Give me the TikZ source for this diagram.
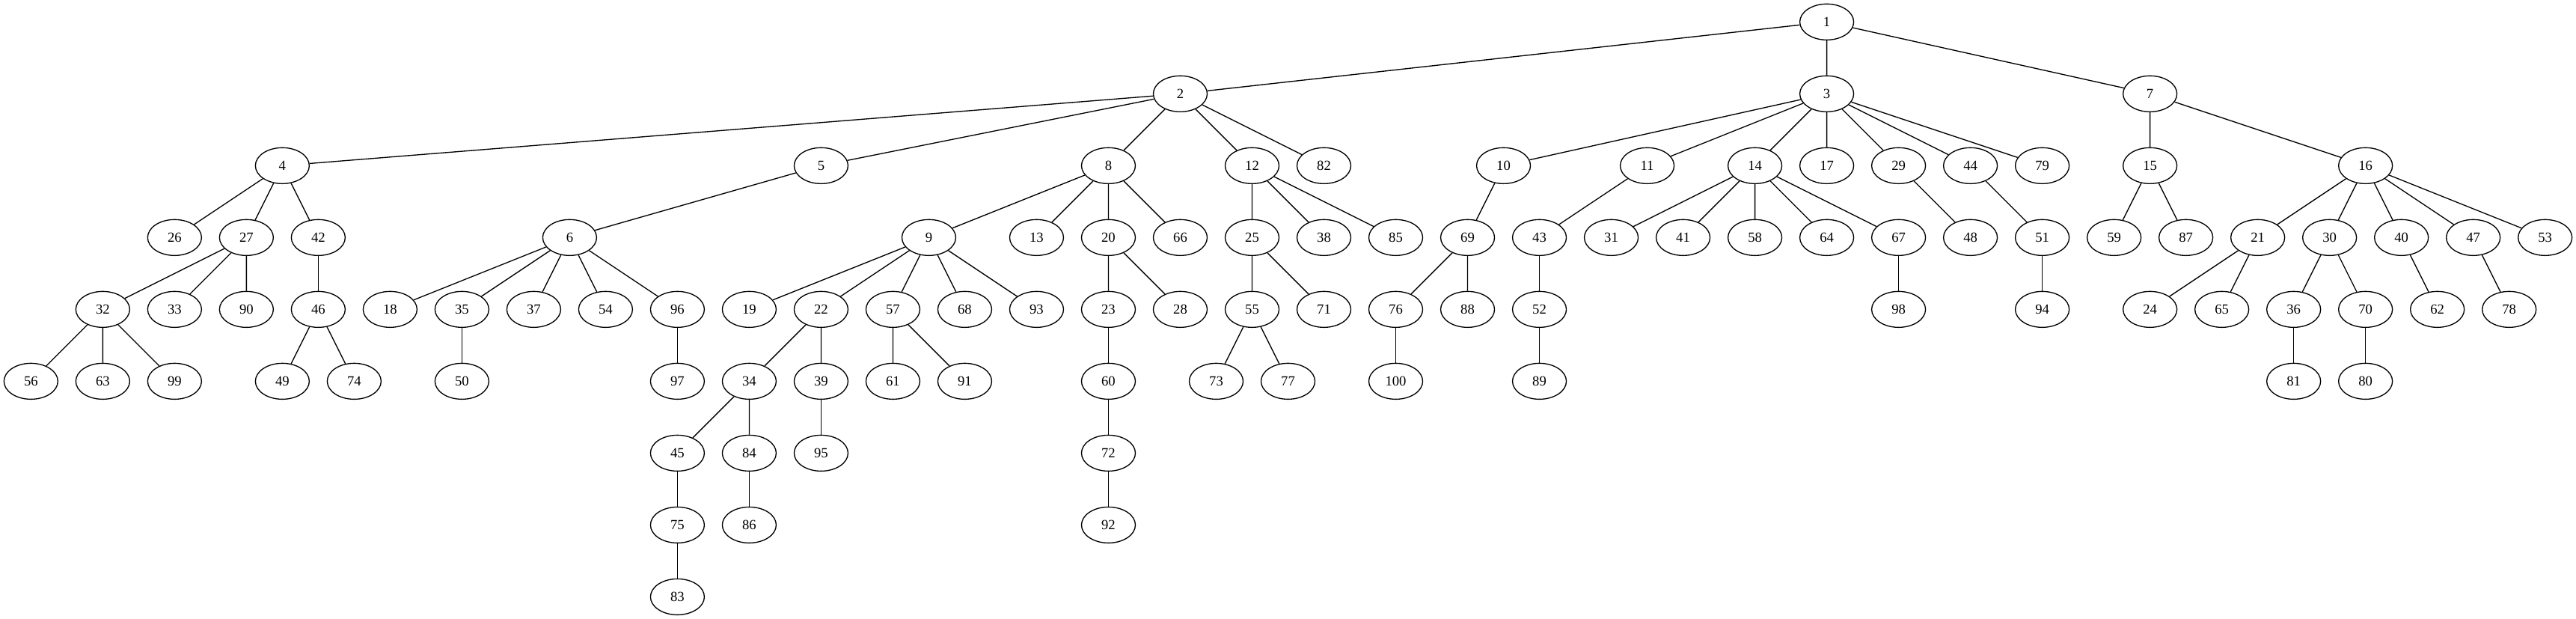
\documentclass[tikz,border=0pt]{standalone}
\usepackage{fontspec}
\setmainfont{Liberation Serif}
\usetikzlibrary{shapes.geometric}
\begin{document}
\begin{tikzpicture}[x=1bp,y=1bp,line width=1bp]
    \tikzset{
        vertex/.style={
            draw,
            ellipse,
            inner sep=0pt,
            minimum width=54bp,
            minimum height=36bp,
            font=\fontsize{14bp}{16bp}\selectfont
        },
        branch/.style={line width=1bp}
    }
    \useasboundingbox (0,0) rectangle (2582,620);

    % rank 0 and 1
    \node[vertex] (n1) at (1831,598) {1};
    \node[vertex] (n2) at (1183,526) {2};
    \node[vertex] (n3) at (1831,526) {3};
    \node[vertex] (n7) at (2155,526) {7};

    % rank 2
    \node[vertex] (n4) at (283,454) {4};
    \node[vertex] (n5) at (823,454) {5};
    \node[vertex] (n8) at (1111,454) {8};
    \node[vertex] (n12) at (1255,454) {12};
    \node[vertex] (n82) at (1327,454) {82};
    \node[vertex] (n10) at (1507,454) {10};
    \node[vertex] (n11) at (1651,454) {11};
    \node[vertex] (n14) at (1759,454) {14};
    \node[vertex] (n17) at (1831,454) {17};
    \node[vertex] (n29) at (1903,454) {29};
    \node[vertex] (n44) at (1975,454) {44};
    \node[vertex] (n79) at (2047,454) {79};
    \node[vertex] (n15) at (2155,454) {15};
    \node[vertex] (n16) at (2371,454) {16};

    % rank 3
    \node[vertex] (n26) at (175,382) {26};
    \node[vertex] (n27) at (247,382) {27};
    \node[vertex] (n42) at (319,382) {42};
    \node[vertex] (n6) at (571,382) {6};
    \node[vertex] (n9) at (931,382) {9};
    \node[vertex] (n13) at (1039,382) {13};
    \node[vertex] (n20) at (1111,382) {20};
    \node[vertex] (n66) at (1183,382) {66};
    \node[vertex] (n25) at (1255,382) {25};
    \node[vertex] (n38) at (1327,382) {38};
    \node[vertex] (n85) at (1399,382) {85};
    \node[vertex] (n69) at (1471,382) {69};
    \node[vertex] (n43) at (1543,382) {43};
    \node[vertex] (n31) at (1615,382) {31};
    \node[vertex] (n41) at (1687,382) {41};
    \node[vertex] (n58) at (1759,382) {58};
    \node[vertex] (n64) at (1831,382) {64};
    \node[vertex] (n67) at (1903,382) {67};
    \node[vertex] (n48) at (1975,382) {48};
    \node[vertex] (n51) at (2047,382) {51};
    \node[vertex] (n59) at (2119,382) {59};
    \node[vertex] (n87) at (2191,382) {87};
    \node[vertex] (n21) at (2263,382) {21};
    \node[vertex] (n30) at (2335,382) {30};
    \node[vertex] (n40) at (2407,382) {40};
    \node[vertex] (n47) at (2479,382) {47};
    \node[vertex] (n53) at (2551,382) {53};

    % rank 4
    \node[vertex] (n32) at (103,310) {32};
    \node[vertex] (n33) at (175,310) {33};
    \node[vertex] (n90) at (247,310) {90};
    \node[vertex] (n46) at (319,310) {46};
    \node[vertex] (n18) at (391,310) {18};
    \node[vertex] (n35) at (463,310) {35};
    \node[vertex] (n37) at (535,310) {37};
    \node[vertex] (n54) at (607,310) {54};
    \node[vertex] (n96) at (679,310) {96};
    \node[vertex] (n19) at (751,310) {19};
    \node[vertex] (n22) at (823,310) {22};
    \node[vertex] (n57) at (895,310) {57};
    \node[vertex] (n68) at (967,310) {68};
    \node[vertex] (n93) at (1039,310) {93};
    \node[vertex] (n23) at (1111,310) {23};
    \node[vertex] (n28) at (1183,310) {28};
    \node[vertex] (n55) at (1255,310) {55};
    \node[vertex] (n71) at (1327,310) {71};
    \node[vertex] (n76) at (1399,310) {76};
    \node[vertex] (n88) at (1471,310) {88};
    \node[vertex] (n52) at (1543,310) {52};
    \node[vertex] (n98) at (1903,310) {98};
    \node[vertex] (n94) at (2047,310) {94};
    \node[vertex] (n24) at (2155,310) {24};
    \node[vertex] (n65) at (2227,310) {65};
    \node[vertex] (n36) at (2299,310) {36};
    \node[vertex] (n70) at (2371,310) {70};
    \node[vertex] (n62) at (2443,310) {62};
    \node[vertex] (n78) at (2515,310) {78};

    % rank 5
    \node[vertex] (n56) at (31,238) {56};
    \node[vertex] (n63) at (103,238) {63};
    \node[vertex] (n99) at (175,238) {99};
    \node[vertex] (n49) at (283,238) {49};
    \node[vertex] (n74) at (355,238) {74};
    \node[vertex] (n50) at (463,238) {50};
    \node[vertex] (n97) at (679,238) {97};
    \node[vertex] (n34) at (751,238) {34};
    \node[vertex] (n39) at (823,238) {39};
    \node[vertex] (n61) at (895,238) {61};
    \node[vertex] (n91) at (967,238) {91};
    \node[vertex] (n60) at (1111,238) {60};
    \node[vertex] (n73) at (1219,238) {73};
    \node[vertex] (n77) at (1291,238) {77};
    \node[vertex] (n100) at (1399,238) {100};
    \node[vertex] (n89) at (1543,238) {89};
    \node[vertex] (n81) at (2299,238) {81};
    \node[vertex] (n80) at (2371,238) {80};

    % rank 6 to 8
    \node[vertex] (n45) at (679,166) {45};
    \node[vertex] (n84) at (751,166) {84};
    \node[vertex] (n95) at (823,166) {95};
    \node[vertex] (n72) at (1111,166) {72};
    \node[vertex] (n75) at (679,94) {75};
    \node[vertex] (n86) at (751,94) {86};
    \node[vertex] (n92) at (1111,94) {92};
    \node[vertex] (n83) at (679,22) {83};

    % edges
    \draw[branch] (n1) -- (n2) (n1) -- (n3) (n1) -- (n7);
    \draw[branch] (n2) -- (n4) (n2) -- (n5) (n2) -- (n8) (n2) -- (n12) (n2) -- (n82);
    \draw[branch] (n3) -- (n10) (n3) -- (n11) (n3) -- (n14) (n3) -- (n17)
        (n3) -- (n29) (n3) -- (n44) (n3) -- (n79);
    \draw[branch] (n7) -- (n15) (n7) -- (n16);
    \draw[branch] (n4) -- (n26) (n4) -- (n27) (n4) -- (n42);
    \draw[branch] (n5) -- (n6);
    \draw[branch] (n8) -- (n9) (n8) -- (n13) (n8) -- (n20) (n8) -- (n66);
    \draw[branch] (n12) -- (n25) (n12) -- (n38) (n12) -- (n85);
    \draw[branch] (n10) -- (n69);
    \draw[branch] (n11) -- (n43);
    \draw[branch] (n14) -- (n31) (n14) -- (n41) (n14) -- (n58) (n14) -- (n64) (n14) -- (n67);
    \draw[branch] (n29) -- (n48);
    \draw[branch] (n44) -- (n51);
    \draw[branch] (n15) -- (n59) (n15) -- (n87);
    \draw[branch] (n16) -- (n21) (n16) -- (n30) (n16) -- (n40) (n16) -- (n47) (n16) -- (n53);
    \draw[branch] (n27) -- (n32) (n27) -- (n33) (n27) -- (n90);
    \draw[branch] (n42) -- (n46);
    \draw[branch] (n6) -- (n18) (n6) -- (n35) (n6) -- (n37) (n6) -- (n54) (n6) -- (n96);
    \draw[branch] (n9) -- (n19) (n9) -- (n22) (n9) -- (n57) (n9) -- (n68) (n9) -- (n93);
    \draw[branch] (n20) -- (n23) (n20) -- (n28);
    \draw[branch] (n25) -- (n55) (n25) -- (n71);
    \draw[branch] (n69) -- (n76) (n69) -- (n88);
    \draw[branch] (n43) -- (n52);
    \draw[branch] (n67) -- (n98);
    \draw[branch] (n51) -- (n94);
    \draw[branch] (n21) -- (n24) (n21) -- (n65);
    \draw[branch] (n30) -- (n36) (n30) -- (n70);
    \draw[branch] (n40) -- (n62);
    \draw[branch] (n47) -- (n78);
    \draw[branch] (n32) -- (n56) (n32) -- (n63) (n32) -- (n99);
    \draw[branch] (n46) -- (n49) (n46) -- (n74);
    \draw[branch] (n35) -- (n50);
    \draw[branch] (n96) -- (n97);
    \draw[branch] (n22) -- (n34) (n22) -- (n39);
    \draw[branch] (n57) -- (n61) (n57) -- (n91);
    \draw[branch] (n23) -- (n60);
    \draw[branch] (n55) -- (n73) (n55) -- (n77);
    \draw[branch] (n76) -- (n100);
    \draw[branch] (n52) -- (n89);
    \draw[branch] (n36) -- (n81);
    \draw[branch] (n70) -- (n80);
    \draw[branch] (n34) -- (n45) (n34) -- (n84);
    \draw[branch] (n39) -- (n95);
    \draw[branch] (n60) -- (n72);
    \draw[branch] (n45) -- (n75);
    \draw[branch] (n84) -- (n86);
    \draw[branch] (n72) -- (n92);
    \draw[branch] (n75) -- (n83);
\end{tikzpicture}
\end{document}
